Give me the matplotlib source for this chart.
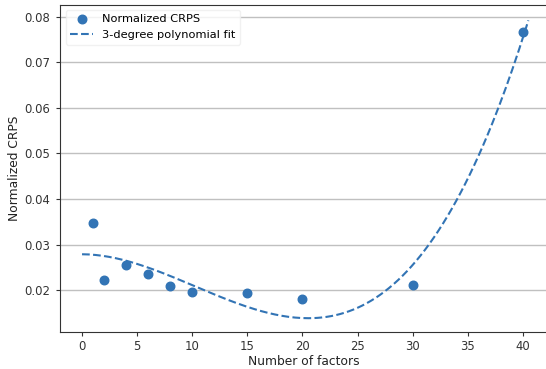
import matplotlib
matplotlib.use("Agg")
import matplotlib.pyplot as plt
import numpy as np

# number of factors vs normalized CRPS
n_factors = [1, 2, 4, 6, 8, 10, 15, 20, 30, 40]
crps = [0.0348, 0.0222, 0.0256, 0.0235, 0.0210, 0.0196, 0.0194, 0.0181, 0.0211, 0.0766]

color = "#3274b5"

coef = np.polyfit(n_factors, crps, 3)
xs_fit = np.linspace(0, 40.5, 200)
ys_fit = np.polyval(coef, xs_fit)

fig = plt.figure(figsize=(5.46, 3.69), dpi=100)
ax = fig.add_axes([60 / 546, 1 - 332 / 369, 1 - 60 / 546 + 0.004, (332 - 5) / 369])

ax.scatter(n_factors, crps, s=38, color=color, zorder=3, label="Normalized CRPS")
ax.plot(xs_fit, ys_fit, "--", color=color, lw=1.5, label="3-degree polynomial fit")

ax.set_xlim(-2.0, 42.3)
ax.set_ylim(0.0108, 0.0826)
ax.set_xticks(range(0, 45, 5))
ax.set_yticks([0.02, 0.03, 0.04, 0.05, 0.06, 0.07, 0.08])
ax.yaxis.grid(True, color="#c0c0c0", lw=1)
ax.set_axisbelow(True)
for s in ax.spines.values():
    s.set_color("#333333")
ax.spines["right"].set_visible(False)
ax.tick_params(colors="#333333", labelcolor="#333333", labelsize=8.4, length=3, pad=4)
ax.tick_params(axis="x", pad=3)

ax.set_xlabel("Number of factors", color="#222222", fontsize=8.8, labelpad=1)
ax.set_ylabel("Normalized CRPS", color="#222222", fontsize=8.8, labelpad=2)
ax.legend(loc="upper left", framealpha=0.8, edgecolor="#eeeeee", fontsize=8.2,
          bbox_to_anchor=(0.0, 1.003))

fig.savefig("out.png", dpi=100)
